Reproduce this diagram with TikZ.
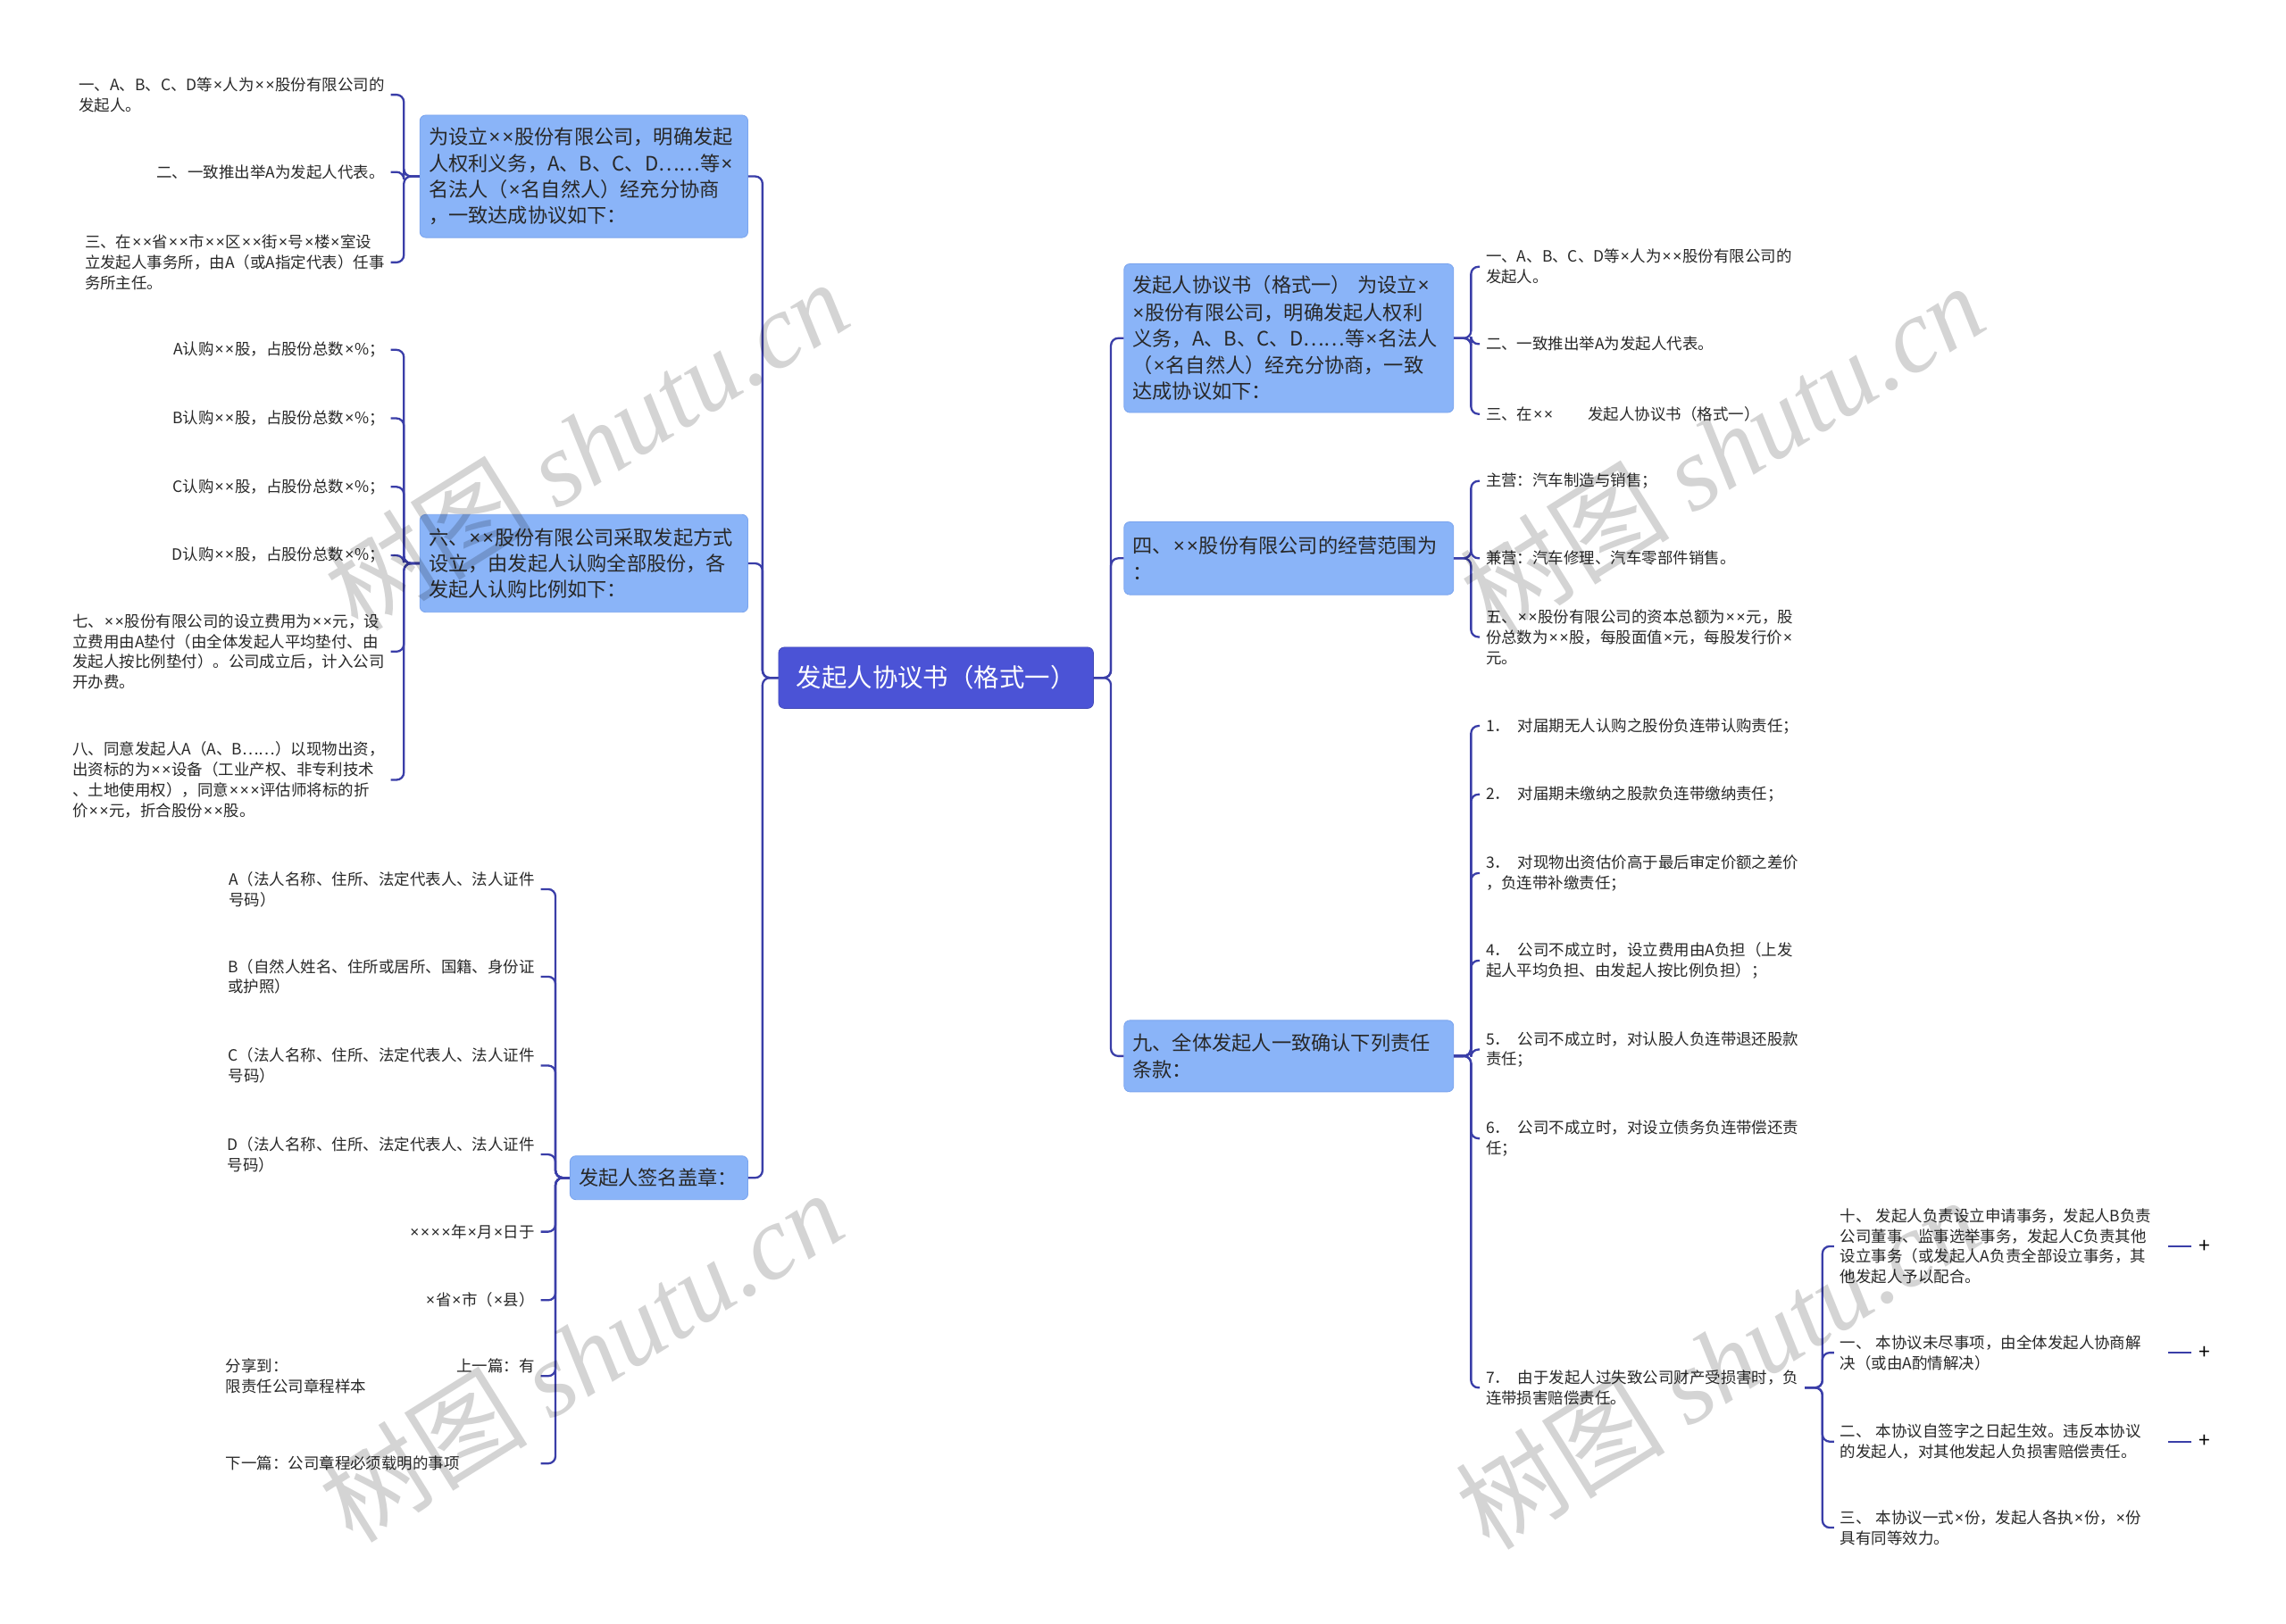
\documentclass[tikz,border=0pt]{standalone}
\usepackage{fontspec}
\setmainfont{Noto Sans CJK SC}
\newfontfamily\wmlatin{Liberation Serif}
\newfontfamily\latinfont{Noto Sans}
\catcode`\×=\active
\protected\def×{{\latinfont\kern0.05em\char"D7\kern0.05em\relax}}
\definecolor{rootfill}{RGB}{75,83,214}
\definecolor{boxfill}{RGB}{138,180,248}
\definecolor{boxline}{RGB}{122,164,238}
\definecolor{conncol}{RGB}{58,62,168}
\definecolor{txt}{RGB}{40,40,40}
\tikzset{
 conn/.style={draw=conncol, line width=1.4pt, rounded corners=5pt},
 rootbox/.style={fill=rootfill, draw=rootfill!85!black, line width=0.4pt, rounded corners=4pt, text=white, font=\fontsize{17.4}{22}\selectfont, minimum width=216pt, minimum height=42pt, inner sep=0pt, align=center},
 lonebox/.style={fill=boxfill, draw=boxline, line width=0.5pt, rounded corners=4pt, text=txt, font=\fontsize{13.6}{18}\selectfont, inner xsep=6pt, inner ysep=0pt, align=left},
 leaf/.style={text=txt, font=\fontsize{10.7}{14}\selectfont, inner xsep=4pt, inner ysep=1pt, align=left},
 leafL/.style={leaf, anchor=east},
 leafR/.style={leaf, anchor=west},
 plusmark/.style={text=black, font=\fontsize{14}{14}\selectfont, inner sep=0pt},
 wm/.style={text=black, text opacity=0.17, rotate=32, inner sep=0pt, font=\fontsize{72}{72}\selectfont}
}
\begin{document}
\begin{tikzpicture}[x=1pt,y=-1pt]
\fill[white] (0,0) rectangle (1568,1114);
\useasboundingbox (0,0) rectangle (1568,1114);

% spines
\coordinate (sL) at (523,0);
\coordinate (sR) at (762,0);
\coordinate (sA) at (277,0);
\coordinate (sC) at (381,0);
\coordinate (sD) at (1009,0);
\coordinate (sG) at (1250,0);

% root
\node[rootbox] (root) at (642,465) {发起人协议书（格式一）};

% left level 1
\node[lonebox, text width=213pt, minimum height=84pt] (L1a) at (400.5,121) {为设立××股份有限公司，明确发起\\人权利义务，A、B、C、D……等×\\名法人（×名自然人）经充分协商\\，一致达成协议如下：};
\node[lonebox, text width=213pt, minimum height=67pt] (L1b) at (400.5,386.5) {六、××股份有限公司采取发起方式\\设立，由发起人认购全部股份，各\\发起人认购比例如下：};
\node[lonebox, text width=110pt, minimum height=30pt] (L1c) at (452,808) {发起人签名盖章：};

% right level 1
\node[lonebox, text width=214pt, minimum height=102pt] (R1a) at (884,232) {发起人协议书（格式一）~为设立×\\×股份有限公司，明确发起人权利\\义务，A、B、C、D……等×名法人\\（×名自然人）经充分协商，一致\\达成协议如下：};
\node[lonebox, text width=214pt, minimum height=50pt] (R1b) at (884,383) {四、××股份有限公司的经营范围为\\：};
\node[lonebox, text width=214pt, minimum height=49pt] (R1c) at (884,724.5) {九、全体发起人一致确认下列责任\\条款：};

% leaves of L1a
\node[leafL] (a1) at (268,65) {一、A、B、C、D等×人为××股份有限公司的\\发起人。};
\node[leafL] (a2) at (268,118) {二、一致推出举A为发起人代表。};
\node[leafL] (a3) at (268,180) {三、在××省××市××区××街×号×楼×室设\\立发起人事务所，由A（或A指定代表）任事\\务所主任。};

% leaves of L1b
\node[leafL] (b1) at (268,240) {A认购××股，占股份总数×\%；};
\node[leafL] (b2) at (268,287) {B认购××股，占股份总数×\%；};
\node[leafL] (b3) at (268,334) {C认购××股，占股份总数×\%；};
\node[leafL] (b4) at (268,381) {D认购××股，占股份总数×\%；};
\node[leafL] (b5) at (268,447) {七、××股份有限公司的设立费用为××元，设\\立费用由A垫付（由全体发起人平均垫付、由\\发起人按比例垫付）。公司成立后，计入公司\\开办费。};
\node[leafL] (b6) at (268,535) {八、同意发起人A（A、B……）以现物出资，\\出资标的为××设备（工业产权、非专利技术\\、土地使用权），同意×××评估师将标的折\\价××元，折合股份××股。};

% leaves of L1c
\node[leafL] (c1) at (371,610) {A（法人名称、住所、法定代表人、法人证件\\号码）};
\node[leafL] (c2) at (371,670) {B（自然人姓名、住所或居所、国籍、身份证\\或护照）};
\node[leafL] (c3) at (371,731) {C（法人名称、住所、法定代表人、法人证件\\号码）};
\node[leafL] (c4) at (371,792) {D（法人名称、住所、法定代表人、法人证件\\号码）};
\node[leafL] (c5) at (371,845) {××××年×月×日于};
\node[leafL] (c6) at (371,892) {×省×市（×县）};
\node[leafL, text width=212pt] (c7) at (371,944) {分享到：\hfill 上一篇：有\\限责任公司章程样本};
\node[leafL, text width=212pt] (c8) at (371,1004) {下一篇：公司章程必须载明的事项};

% leaves of R1a
\node[leafR] (d1) at (1015,183) {一、A、B、C、D等×人为××股份有限公司的\\发起人。};
\node[leafR] (d2) at (1015,236) {二、一致推出举A为发起人代表。};
\node[leafR] (d3) at (1015,284) {三、在××\hspace{2.2em}发起人协议书（格式一）};

% leaves of R1b
\node[leafR] (e1) at (1015,330) {主营：汽车制造与销售；};
\node[leafR] (e2) at (1015,383) {兼营：汽车修理、汽车零部件销售。};
\node[leafR] (e3) at (1015,437) {五、××股份有限公司的资本总额为××元，股\\份总数为××股，每股面值×元，每股发行价×\\元。};

% leaves of R1c
\node[leafR] (f1) at (1015,498) {1．\hspace{0.5em}对届期无人认购之股份负连带认购责任；};
\node[leafR] (f2) at (1015,545) {2．\hspace{0.5em}对届期未缴纳之股款负连带缴纳责任；};
\node[leafR] (f3) at (1015,599) {3．\hspace{0.5em}对现物出资估价高于最后审定价额之差价\\，负连带补缴责任；};
\node[leafR] (f4) at (1015,659) {4．\hspace{0.5em}公司不成立时，设立费用由A负担（上发\\起人平均负担、由发起人按比例负担）；};
\node[leafR] (f5) at (1015,720) {5．\hspace{0.5em}公司不成立时，对认股人负连带退还股款\\责任；};
\node[leafR] (f6) at (1015,781) {6．\hspace{0.5em}公司不成立时，对设立债务负连带偿还责\\任；};
\node[leafR] (f7) at (1015,952) {7．\hspace{0.5em}由于发起人过失致公司财产受损害时，负\\连带损害赔偿责任。};

% leaves of f7
\node[leafR] (g1) at (1258,855) {十、\hspace{0.3em}发起人负责设立申请事务，发起人B负责\\公司董事、监事选举事务，发起人C负责其他\\设立事务（或发起人A负责全部设立事务，其\\他发起人予以配合。};
\node[leafR] (g2) at (1258,928) {一、\hspace{0.3em}本协议未尽事项，由全体发起人协商解\\决（或由A酌情解决）};
\node[leafR] (g3) at (1258,989) {二、\hspace{0.3em}本协议自签字之日起生效。违反本协议\\的发起人，对其他发起人负损害赔偿责任。};
\node[leafR] (g4) at (1258,1048) {三、\hspace{0.3em}本协议一式×份，发起人各执×份，×份\\具有同等效力。};

% connectors root
\foreach \c in {L1a,L1b,L1c}
  \draw[conn] (root.west) -- (root.west -| sL) |- (\c.east);
\foreach \c in {R1a,R1b,R1c}
  \draw[conn] (root.east) -- (root.east -| sR) |- (\c.west);
% level 2
\foreach \c in {a1,a2,a3}
  \draw[conn] (L1a.west) -- (L1a.west -| sA) |- (\c.east);
\foreach \c in {b1,b2,b3,b4,b5,b6}
  \draw[conn] (L1b.west) -- (L1b.west -| sA) |- (\c.east);
\foreach \c in {c1,c2,c3,c4,c5,c6,c7,c8}
  \draw[conn] (L1c.west) -- (L1c.west -| sC) |- (\c.east);
\foreach \c in {d1,d2,d3}
  \draw[conn] (R1a.east) -- (R1a.east -| sD) |- (\c.west);
\foreach \c in {e1,e2,e3}
  \draw[conn] (R1b.east) -- (R1b.east -| sD) |- (\c.west);
\foreach \c in {f1,f2,f3,f4,f5,f6,f7}
  \draw[conn] (R1c.east) -- (R1c.east -| sD) |- (\c.west);
\foreach \c in {g1,g2,g3,g4}
  \draw[conn] (f7.east) -- (f7.east -| sG) |- (\c.west);

% collapsed markers
\foreach \y/\n in {855/1,928/2,989/3}{
  \coordinate (m\n) at (1487,\y);
  \node[plusmark] (p\n) at (1512,\y) {+};
  \draw[conn] (m\n) -- ++(16,0);
}

% watermarks
\node[wm] (w1) at (402,305) {树图 {\wmlatin\itshape shutu.cn}};
\node[wm] (w2) at (1181,308) {树图 {\wmlatin\itshape shutu.cn}};
\node[wm] (w3) at (398,930) {树图 {\wmlatin\itshape shutu.cn}};
\node[wm] (w4) at (1178,935) {树图 {\wmlatin\itshape shutu.cn}};
\end{tikzpicture}
\end{document}
